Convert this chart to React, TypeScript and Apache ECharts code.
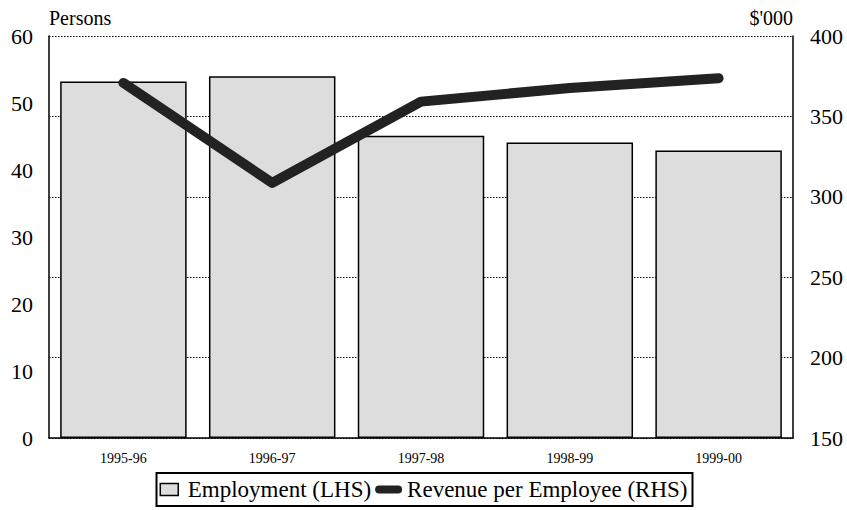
import React, { useEffect, useRef } from "react";
import * as echarts from "echarts";

const categories = ["1995-96", "1996-97", "1997-98", "1998-99", "1999-00"];
const employment = [53.2, 54.0, 45.1, 44.1, 42.9];
const revenuePerEmployee = [370.8, 308.6, 359.2, 367.7, 373.7];
const leftTicks = { min: 0, max: 60, interval: 10 };
const rightTicks = { min: 150, max: 400, interval: 50 };

const FONT = "'Liberation Serif', 'Times New Roman', 'DejaVu Serif', serif";

const RECT_ICON = "path://M0,0 L18,0 L18,12 L0,12 Z";
const LINE_ICON = "path://M4,0 L23,0 A4,4 0 0 1 23,8 L4,8 A4,4 0 0 1 4,0 Z";

export default function App() {
  const ref = useRef<HTMLDivElement>(null);
  useEffect(() => {
    if (!ref.current) return;
    const chart = echarts.init(ref.current, null, { renderer: "svg" });
    chart.setOption({
      animation: false,
      backgroundColor: "#ffffff",
      textStyle: { fontFamily: FONT, color: "#000" },
      grid: { left: 49, right: 54, top: 36, bottom: 72 },
      legend: {
        show: true,
        left: "center",
        top: 473,
        padding: [5, 5, 5, 3],
        borderColor: "#000",
        borderWidth: 2,
        itemGap: 4,
        itemWidth: 27,
        itemHeight: 12,
        textStyle: { fontFamily: FONT, fontSize: 23, color: "#000" },
        data: [
          { name: "Employment (LHS)", icon: RECT_ICON, itemStyle: { color: "#dddddd", borderColor: "#000", borderWidth: 1.5 } },
          { name: "Revenue per Employee (RHS)", icon: LINE_ICON, itemStyle: { color: "#222", borderWidth: 0 } },
        ],
      },
      xAxis: {
        type: "category",
        data: categories,
        axisLine: { show: true, lineStyle: { color: "#000", width: 1.5 } },
        axisTick: { show: false },
        axisLabel: { fontFamily: FONT, fontSize: 14, color: "#000", margin: 13 },
        splitLine: { show: false },
      },
      yAxis: [
        {
          type: "value",
          ...leftTicks,
          position: "left",
          name: "Persons",
          nameLocation: "end",
          nameGap: 8,
          nameTextStyle: { fontFamily: FONT, fontSize: 20, color: "#000", align: "left" },
          axisLine: { show: true, lineStyle: { color: "#000", width: 1.5 } },
          axisTick: { show: false },
          axisLabel: { fontFamily: FONT, fontSize: 22, color: "#000", margin: 16 },
          splitLine: { show: false },
        },
        {
          type: "value",
          ...rightTicks,
          position: "right",
          name: "$'000",
          nameLocation: "end",
          nameGap: 8,
          nameTextStyle: { fontFamily: FONT, fontSize: 20, color: "#000", align: "right" },
          axisLine: { show: true, lineStyle: { color: "#000", width: 1.5 } },
          axisTick: { show: false },
          axisLabel: { fontFamily: FONT, fontSize: 22, color: "#000", margin: 17 },
          splitLine: { show: true, lineStyle: { color: "#000", type: [1.5, 1.5], width: 1 } },
        },
      ],
      series: [
        {
          name: "Employment (LHS)",
          type: "bar",
          yAxisIndex: 0,
          data: employment,
          barWidth: "85%",
          itemStyle: { color: "#dddddd", borderColor: "#000", borderWidth: 1.5 },
          z: 3,
        },
        {
          name: "Revenue per Employee (RHS)",
          type: "line",
          yAxisIndex: 1,
          data: revenuePerEmployee,
          symbol: "none",
          lineStyle: { color: "#222", width: 10, cap: "round", join: "round" },
          itemStyle: { color: "#222" },
          z: 4,
        },
      ],
    });
    return () => chart.dispose();
  }, []);
  return <div ref={ref} style={{ width: 847, height: 510, position: "absolute", left: 0, top: 0 }} />;
}
